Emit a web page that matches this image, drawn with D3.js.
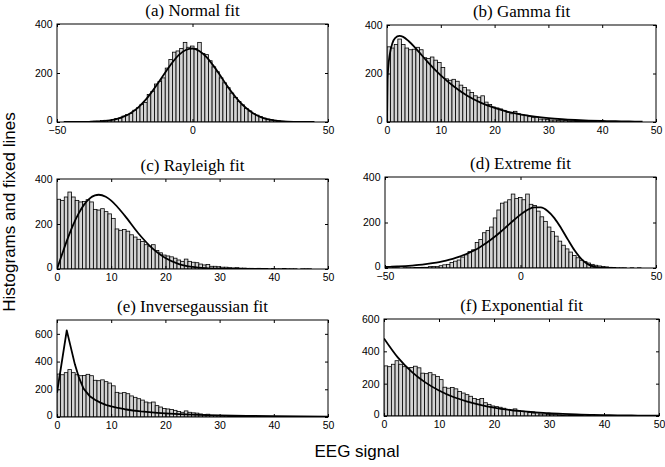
<!DOCTYPE html>
<html>
<head>
<meta charset="utf-8">
<script src="https://cdn.jsdelivr.net/npm/d3@7"></script>
<style>
  body { margin: 0; background: #fff; }
  svg { display: block; }
</style>
</head>
<body>
<svg id="chart" width="665" height="467"></svg>
<script>
// ---- Histogram of the raw EEG signal (symmetric range) ----
const symStart = -47.3;
const symWidth = 1.33;
const symCounts = [
  1, 1, 0, 1, 1, 1, 2, 2, 3, 3,
  6, 7, 6, 10, 14, 16, 24, 30, 35, 48,
  58, 72, 80, 112, 125, 155, 165, 180, 220, 255,
  285, 290, 300, 325, 305, 310, 300, 325, 280, 275,
  250, 225, 205, 180, 160, 140, 118, 100, 84, 70,
  55, 45, 34, 28, 22, 16, 12, 9, 7, 5,
  3, 2, 1, 1, 1, 0, 1, 0, 1, 0
];

// ---- Histogram of the rectified EEG signal (0..47) ----
const halfStart = 0;
const halfWidth = 0.671;
const halfCounts = [
  310, 305, 320, 342, 320, 305, 298, 300, 308, 298,
  265, 262, 268, 255, 245, 225, 178, 172, 176, 168,
  152, 142, 132, 122, 108, 102, 108, 82, 72, 62,
  58, 54, 48, 40, 34, 44, 34, 30, 28, 22,
  18, 20, 12, 12, 10, 8, 8, 6, 5, 6,
  4, 4, 3, 3, 2, 3, 2, 2, 1, 2,
  1, 1, 2, 1, 1, 1, 0, 1, 1, 1
];

// ---- Fitted density lines (scaled to counts) ----
const normalFitX = [-47.5, -45, -42.5, -40, -37.5, -35, -32.5, -30, -27.5, -25, -22.5, -20, -17.5, -15, -12.5, -10, -7.5, -5, -2.5, 0,
  2.5, 5, 7.5, 10, 12.5, 15, 17.5, 20, 22.5, 25, 27.5, 30, 32.5, 35, 37.5, 40, 42.5, 45];
const normalFitY = [0, 0.1, 0.2, 0.5, 1, 2, 4, 8, 14, 24, 39, 60, 88, 123, 162, 203, 242, 274, 294, 300,
  290, 267, 233, 194, 152, 114, 81, 55, 35, 21, 12, 7, 3.5, 1.7, 0.8, 0.3, 0.1, 0];

const gammaFitX = [0, 0.1, 0.25, 0.5, 1, 1.5, 2.31, 3, 4, 5, 6, 7.5, 10, 12.5, 15, 17.5, 20, 22.5, 25, 27.5, 30, 32.5, 35, 37.5, 40, 42.5, 45, 47.5];
const gammaFitY = [0, 173, 229, 277, 325, 346, 355, 351, 334, 312, 287, 249, 192, 145, 107, 79, 58, 42, 30.5, 22, 15.8, 11.4, 8.2, 5.8, 4.2, 3.0, 2.1, 1.5];

const rayleighFitX = [0, 1, 2, 3, 4, 5, 6, 7, 7.7, 9, 10, 11, 12.5, 15, 17.5, 20, 22.5, 25, 27.5, 30, 32.5, 35];
const rayleighFitY = [0, 70, 137, 197, 247, 286, 313, 327, 330, 321, 304, 280, 237, 159, 94, 49, 22, 9, 3.3, 1.1, 0.3, 0.1];

const extremeFitX = [-50, -47.5, -45, -42.5, -40, -37.5, -35, -32.5, -30, -27.5, -25, -22.5, -20, -17.5, -15, -12.5, -10, -7.5, -5, -2.5,
  0, 2.5, 5, 7.5, 10, 12.5, 15, 17.5, 20, 22.5, 25, 27.5, 30, 32.5, 35];
const extremeFitY = [4.4, 5.5, 6.9, 8.6, 10.8, 13.4, 16.8, 21, 26, 32.5, 40.3, 49.8, 61.4, 75.2, 91.6, 110.8, 132.8, 157.3, 183.4, 209.9,
  234.6, 254.8, 266.5, 266.1, 250.6, 219.4, 175.1, 124.6, 76.6, 39.3, 16, 4.9, 1.1, 0.1, 0];

const invGaussFitX = [0, 1.8, 3.3, 4, 4.9, 6, 7, 8, 9, 10, 11, 12.5, 14, 15.5, 17, 18.5, 20, 22.5, 25, 27.5, 30, 35, 40, 45, 50];
const invGaussFitY = [175, 625, 380, 290, 205, 152, 125, 104, 88, 76, 67, 56, 47, 40, 35, 30, 26, 21, 17, 14, 12, 8, 6, 4, 3];

const expFitX = [0, 2.5, 5, 7.5, 10, 12.5, 15, 17.5, 20, 22.5, 25, 27.5, 30, 32.5, 35, 37.5, 40, 42.5, 45, 47.5, 50];
const expFitY = [480, 363, 275, 208, 158, 119, 91, 69, 52, 39, 30, 23, 17, 13, 10, 7.4, 5.6, 4.3, 3.2, 2.4, 1.8];

// ---- Panel titles and axis ticks ----
const titles = ["(a) Normal fit", "(b) Gamma fit", "(c) Rayleigh fit", "(d) Extreme fit", "(e) Inversegaussian fit", "(f) Exponential fit"];
const symTicks = [-50, 0, 50];
const halfTicks = [0, 10, 20, 30, 40, 50];
const countTicks400 = [0, 200, 400];
const countTicks600 = [0, 200, 400, 600];

const yAxisLabel = "Histograms and fixed lines";
const xAxisLabel = "EEG signal";

// Panel layout (pixel boxes) and which data each one uses
const panels = [
  { box: [57, 24, 328, 122],  title: titles[0], hist: "sym",  xDom: [-50, 50], xt: symTicks,  yMax: 400, yt: countTicks400, fx: normalFitX,   fy: normalFitY,   curve: "smooth" },
  { box: [387, 25, 656, 122], title: titles[1], hist: "half", xDom: [0, 50],   xt: halfTicks, yMax: 400, yt: countTicks400, fx: gammaFitX,    fy: gammaFitY,    curve: "smooth" },
  { box: [57, 179, 328, 269], title: titles[2], hist: "half", xDom: [0, 50],   xt: halfTicks, yMax: 400, yt: countTicks400, fx: rayleighFitX, fy: rayleighFitY, curve: "smooth" },
  { box: [385, 177, 656, 268], title: titles[3], hist: "sym", xDom: [-50, 50], xt: symTicks,  yMax: 400, yt: countTicks400, fx: extremeFitX,  fy: extremeFitY,  curve: "smooth" },
  { box: [57, 320, 328, 417], title: titles[4], hist: "half", xDom: [0, 50],   xt: halfTicks, yMax: 700, yt: countTicks600, fx: invGaussFitX, fy: invGaussFitY, curve: "linear" },
  { box: [384, 319, 659, 416], title: titles[5], hist: "half", xDom: [0, 50],  xt: halfTicks, yMax: 600, yt: countTicks600, fx: expFitX,      fy: expFitY,      curve: "smooth" }
];

const svg = d3.select("#chart");
const sans = "'Liberation Sans', Arial, Helvetica, sans-serif";
const serif = "'Liberation Serif', 'Times New Roman', Times, serif";

panels.forEach((p, idx) => {
  const [x0, y0, x1, y1] = p.box;
  const xs = d3.scaleLinear().domain(p.xDom).range([x0, x1]);
  const ys = d3.scaleLinear().domain([0, p.yMax]).range([y1, y0]);

  const g = svg.append("g");
  const clipId = "clip" + idx;
  svg.append("clipPath").attr("id", clipId)
    .append("rect").attr("x", x0).attr("y", y0).attr("width", x1 - x0).attr("height", y1 - y0);

  // histogram bars
  const start = p.hist === "sym" ? symStart : halfStart;
  const width = p.hist === "sym" ? symWidth : halfWidth;
  const counts = p.hist === "sym" ? symCounts : halfCounts;
  const bins = counts.map((c, i) => ({ lo: start + i * width, hi: start + (i + 1) * width, c }))
    .filter(d => d.c > 0);

  g.append("g").attr("clip-path", `url(#${clipId})`)
    .selectAll("rect").data(bins).join("rect")
    .attr("x", d => xs(d.lo))
    .attr("width", d => xs(d.hi) - xs(d.lo))
    .attr("y", d => ys(d.c))
    .attr("height", d => ys(0) - ys(d.c))
    .attr("fill", "#d4d4d4")
    .attr("stroke", "#000")
    .attr("stroke-width", 0.8);

  // fitted line
  const pts = p.fx.map((x, i) => [x, p.fy[i]]);
  const line = d3.line()
    .x(d => xs(d[0])).y(d => ys(d[1]))
    .curve(p.curve === "linear" ? d3.curveLinear : d3.curveMonotoneX);
  g.append("path").attr("clip-path", `url(#${clipId})`)
    .attr("d", line(pts))
    .attr("fill", "none").attr("stroke", "#000").attr("stroke-width", 1.8)
    .attr("stroke-linejoin", "round");

  // axes: inward ticks on all four sides
  const tick = 3;
  const bottom = g.append("g").attr("transform", `translate(0,${y1})`)
    .call(d3.axisBottom(xs).tickValues(p.xt).tickSize(-tick).tickPadding(4.5).tickFormat(d3.format("d")));
  const top = g.append("g").attr("transform", `translate(0,${y0})`)
    .call(d3.axisTop(xs).tickValues(p.xt).tickSize(-tick).tickFormat(""));
  const left = g.append("g").attr("transform", `translate(${x0},0)`)
    .call(d3.axisLeft(ys).tickValues(p.yt).tickSize(-tick).tickPadding(4.5).tickFormat(d3.format("d")));
  const right = g.append("g").attr("transform", `translate(${x1},0)`)
    .call(d3.axisRight(ys).tickValues(p.yt).tickSize(-tick).tickFormat(""));
  [bottom, top, left, right].forEach(a => {
    a.select(".domain").remove();
    a.selectAll("line").attr("stroke", "#000").attr("stroke-width", 1);
    a.selectAll("text").attr("font-family", sans).attr("font-size", 10.5).attr("fill", "#000");
  });
  // lift the zero label slightly so it clears the x tick labels
  left.selectAll(".tick text").filter(d => d === 0).attr("dy", "0.1em");

  // frame
  g.append("rect").attr("x", x0).attr("y", y0).attr("width", x1 - x0).attr("height", y1 - y0)
    .attr("fill", "none").attr("stroke", "#000").attr("stroke-width", 1);

  // title
  g.append("text").attr("x", (x0 + x1) / 2).attr("y", y0 - 8.5)
    .attr("text-anchor", "middle").attr("font-family", serif).attr("font-size", 17)
    .text(p.title);
});

// shared axis labels
svg.append("text")
  .attr("transform", "translate(15,212) rotate(-90)")
  .attr("text-anchor", "middle").attr("font-family", sans).attr("font-size", 17)
  .text(yAxisLabel);

svg.append("text")
  .attr("x", 357).attr("y", 457)
  .attr("text-anchor", "middle").attr("font-family", sans).attr("font-size", 17)
  .text(xAxisLabel);
</script>
</body>
</html>
